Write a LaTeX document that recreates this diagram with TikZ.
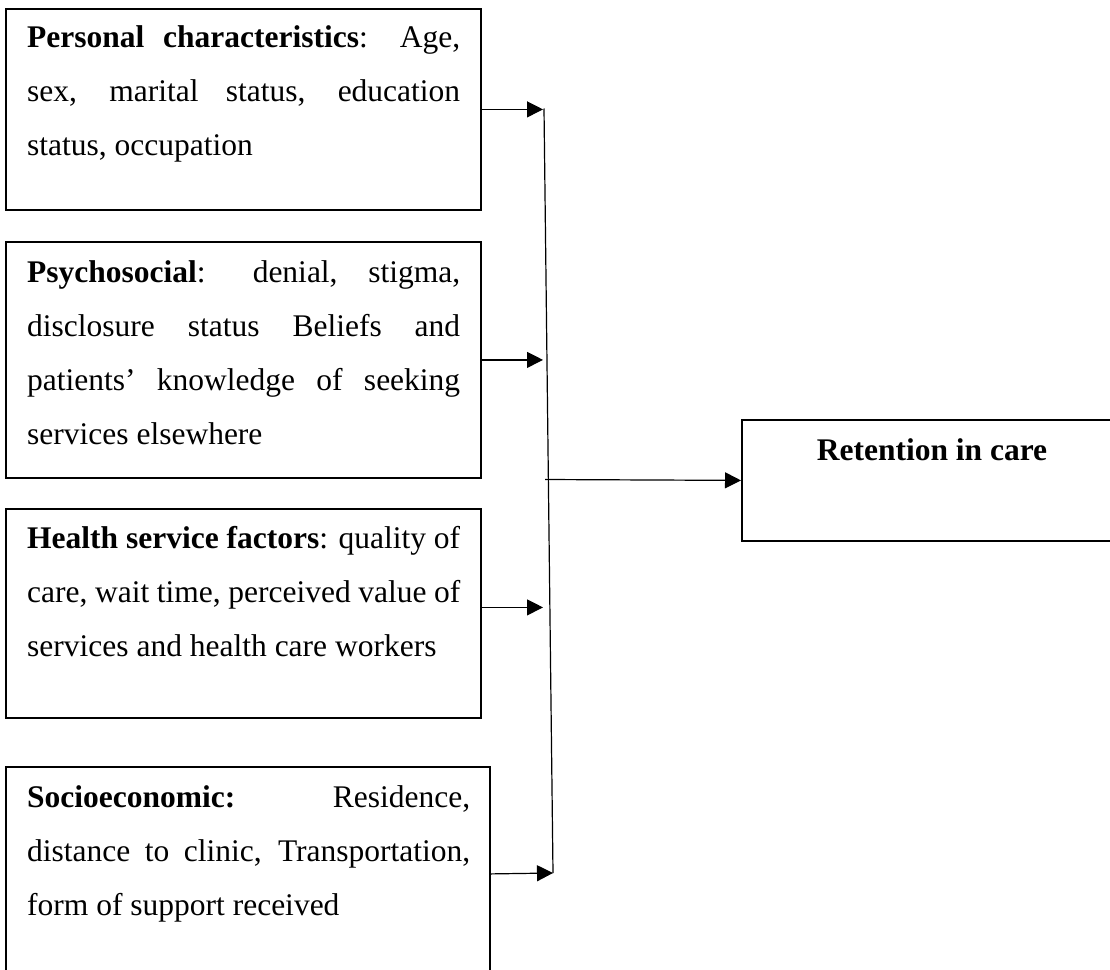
\documentclass[tikz,border=0pt]{standalone}
\usepackage{fontspec}
\setmainfont{Liberation Serif}
\usetikzlibrary{arrows.meta}
\begin{document}
\begin{tikzpicture}[x=1pt,y=-1pt,
  box/.style={draw, line width=1.8pt, rectangle, inner sep=0pt, anchor=north west},
  txt/.style={anchor=base west, inner sep=0pt, text width=433pt, align=justify,
              font=\fontsize{31.5}{54}\selectfont},
  rtxt/.style={anchor=base, inner sep=0pt, font=\fontsize{31.5}{54}\selectfont\bfseries},
  conn/.style={line width=1.2pt},
  arr/.style={conn, -{Triangle[length=16pt,width=16pt]}}]
\useasboundingbox (0,0) rectangle (1110,969);
% boxes
\node[box, minimum width=475pt, minimum height=201pt] (b1) at (5,8) {};
\node[box, minimum width=475pt, minimum height=236pt] (b2) at (5,241) {};
\node[box, minimum width=475pt, minimum height=209pt] (b3) at (5,508) {};
\node[box, minimum width=484pt, minimum height=214pt] (b4) at (5,766) {};
\node[box, minimum width=380pt, minimum height=121pt] (ret) at (741,419) {};
% texts
\node[txt] (t1) at (27,47) {\textbf{Personal characteristics}: Age,\linebreak sex, marital status, education\linebreak status, occupation};
\node[txt] (t2) at (27,282) {\textbf{Psychosocial}: denial, stigma,\linebreak disclosure status Beliefs and\linebreak patients’ knowledge of seeking\linebreak services elsewhere};
\node[txt] (t3) at (27,548) {\textbf{Health service factors}: quality of\linebreak care, wait time, perceived value of\linebreak services and health care workers};
\node[txt, text width=443pt] (t4) at (27,807) {\textbf{Socioeconomic:} Residence,\linebreak distance to clinic, Transportation,\linebreak form of support received};
\node[rtxt] (rt) at (932,460) {Retention in care};
% connectors
\coordinate (vtop) at (544,108.5);
\coordinate (vbot) at (553,873);
\coordinate (hub) at (545,479.5);
\coordinate (tipx) at (543,0);
\draw[conn] (vtop) -- (vbot);
\draw[arr] (b1.east) -- (b1.east -| tipx);
\draw[arr] (b2.east) -- (b2.east -| tipx);
\draw[arr] ([yshift=6pt]b3.east) -- ([yshift=6pt]b3.east -| tipx);
\draw[arr] (b4.east) -- (vbot);
\draw[arr] (hub) -- (ret.west);
\end{tikzpicture}
\end{document}
